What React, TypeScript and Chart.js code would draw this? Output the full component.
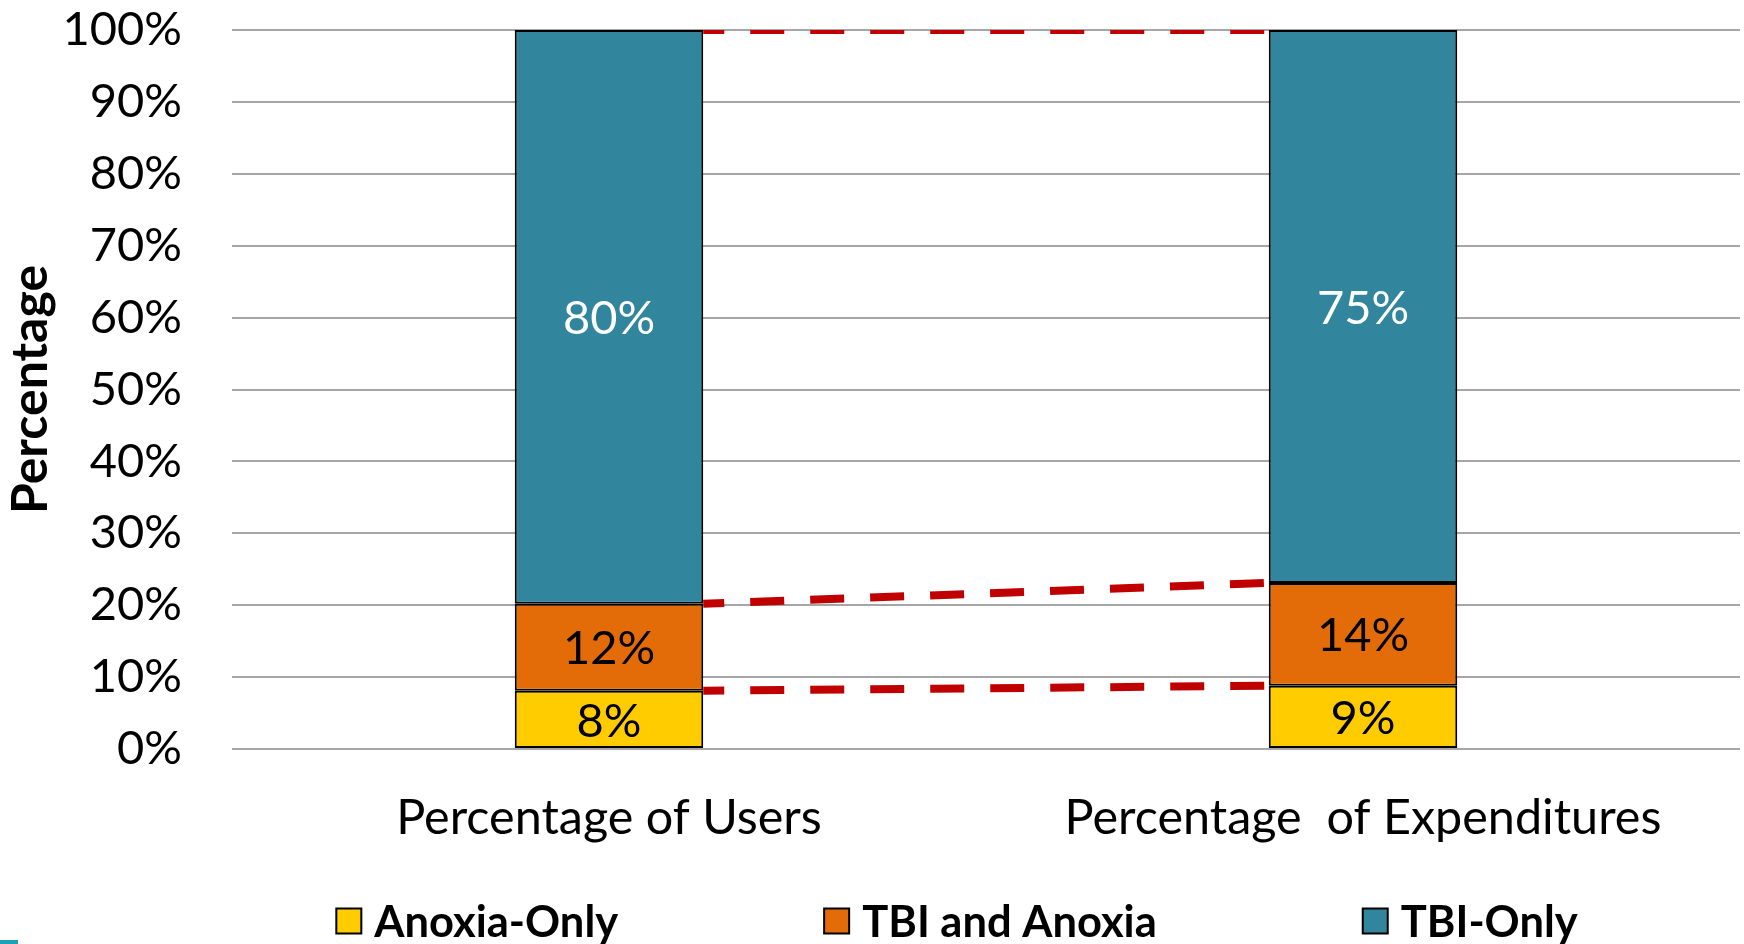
import React, { useEffect, useRef } from 'react';
import { Chart, registerables } from 'chart.js';

Chart.register(...registerables);

// ---- data ----
const categories = ['Percentage of Users', 'Percentage  of Expenditures'];
const seriesNames = ['Anoxia-Only', 'TBI and Anoxia', 'TBI-Only'];
const anoxiaOnly = [8.1, 8.8];
const tbiAndAnoxia = [12.1, 14.3];
const tbiOnly = [79.8, 76.9];
const anoxiaOnlyLabels = ['8%', '9%'];
const tbiAndAnoxiaLabels = ['12%', '14%'];
const tbiOnlyLabels = ['80%', '75%'];
const yAxisTitle = 'Percentage';

// ---- style ----
const FONT = 'Lato, "Open Sans", sans-serif';
const seriesColors = ['#FFCC00', '#E36C09', '#31859C'];
const labelColors = ['#000000', '#000000', '#FFFFFF'];
const valueLabels = [anoxiaOnlyLabels, tbiAndAnoxiaLabels, tbiOnlyLabels];

const segmentLabelPlugin = {
  id: 'segmentLabels',
  afterDatasetsDraw(chart: any) {
    const ctx = chart.ctx;
    ctx.save();
    ctx.font = `47px ${FONT}`;
    ctx.textAlign = 'center';
    ctx.textBaseline = 'middle';
    chart.data.datasets.forEach((_ds: any, di: number) => {
      const meta = chart.getDatasetMeta(di);
      meta.data.forEach((bar: any, i: number) => {
        const { x, y, base } = bar.getProps(['x', 'y', 'base'], true);
        ctx.fillStyle = labelColors[di];
        ctx.fillText(valueLabels[di][i], x, (y + base) / 2 + 2);
      });
    });
    ctx.restore();
  },
};

const connectorPlugin = {
  id: 'connectors',
  afterDatasetsDraw(chart: any) {
    const ctx = chart.ctx;
    const area = chart.chartArea;
    ctx.save();
    ctx.beginPath();
    ctx.rect(area.left, area.top, area.right - area.left, area.bottom - area.top);
    ctx.clip();
    ctx.strokeStyle = '#C00000';
    ctx.lineWidth = 8;
    ctx.setLineDash([34, 26]);
    ctx.lineDashOffset = 13;
    chart.data.datasets.forEach((_ds: any, di: number) => {
      const meta = chart.getDatasetMeta(di);
      const a = meta.data[0];
      const b = meta.data[1];
      ctx.beginPath();
      ctx.moveTo(a.x + a.width / 2, a.y);
      ctx.lineTo(b.x - b.width / 2, b.y);
      ctx.stroke();
    });
    ctx.restore();
  },
};

const legendPlugin = {
  id: 'bottomLegend',
  afterDraw(chart: any) {
    const ctx = chart.ctx;
    ctx.save();
    ctx.font = `bold 43.5px ${FONT}`;
    const box = 25;
    const boxGap = 13;
    const itemGap = 206;
    const centerX = 957;
    const centerY = 921;
    const items = chart.data.datasets.map((ds: any) => ({
      text: ds.label,
      color: ds.backgroundColor,
      w: box + boxGap + ctx.measureText(ds.label).width,
    }));
    const total = items.reduce((s: number, it: any) => s + it.w, 0) + itemGap * (items.length - 1);
    let x = centerX - total / 2;
    items.forEach((it: any) => {
      ctx.fillStyle = it.color;
      ctx.fillRect(x, centerY - box / 2, box, box);
      ctx.strokeStyle = '#000';
      ctx.lineWidth = 2;
      ctx.strokeRect(x, centerY - box / 2, box, box);
      ctx.fillStyle = '#000';
      ctx.textAlign = 'left';
      ctx.textBaseline = 'middle';
      ctx.fillText(it.text, x + box + boxGap, centerY + 2);
      x += it.w + itemGap;
    });
    ctx.restore();
  },
};

export default function App() {
  const ref = useRef<HTMLCanvasElement | null>(null);

  useEffect(() => {
    if (!ref.current) return;
    const seriesData = [anoxiaOnly, tbiAndAnoxia, tbiOnly];
    const chart = new Chart(ref.current, {
      type: 'bar',
      data: {
        labels: categories,
        datasets: seriesNames.map((name, i) => ({
          label: name,
          data: seriesData[i],
          backgroundColor: seriesColors[i],
          borderColor: '#000000',
          borderWidth: 2,
          borderSkipped: false,
          barPercentage: 0.25,
          categoryPercentage: 1,
        })),
      },
      options: {
        responsive: false,
        animation: false,
        layout: { padding: { left: 0, right: 4, top: 30, bottom: 99 } },
        plugins: {
          legend: { display: false },
          tooltip: { enabled: false },
        },
        scales: {
          x: {
            stacked: true,
            grid: { display: false, drawTicks: false },
            border: { display: false },
            ticks: {
              font: { family: FONT, size: 48.5 },
              color: '#000000',
              padding: 40,
              maxRotation: 0,
              autoSkip: false,
            },
            afterFit: (s: any) => {
              s.height = 96;
              s.paddingLeft = 0;
              s.paddingRight = 0;
            },
          },
          y: {
            stacked: true,
            min: 0,
            max: 100,
            ticks: {
              stepSize: 10,
              callback: (v: any) => `${v}%`,
              font: { family: FONT, size: 47 },
              color: '#000000',
              padding: 50,
            },
            grid: { color: '#A6A6A6', lineWidth: 2, drawTicks: false },
            border: { display: false },
            title: {
              display: true,
              text: yAxisTitle,
              font: { family: FONT, size: 50, weight: 'bold' },
              color: '#000000',
              padding: { top: 1, bottom: 0 },
            },
            afterFit: (s: any) => {
              s.width = 232;
              s.paddingTop = 0;
              s.paddingBottom = 0;
            },
          },
        },
      },
      plugins: [connectorPlugin, segmentLabelPlugin, legendPlugin],
    } as any);
    return () => chart.destroy();
  }, []);

  return (
    <div style={{ position: 'absolute', left: 0, top: 0, width: 1744, height: 944, background: '#FFFFFF', overflow: 'hidden' }}>
      <canvas ref={ref} width={1744} height={944} style={{ display: 'block' }} />
      <div style={{ position: 'absolute', left: 0, top: 940, width: 18, height: 4, background: '#19A3B5' }} />
    </div>
  );
}
